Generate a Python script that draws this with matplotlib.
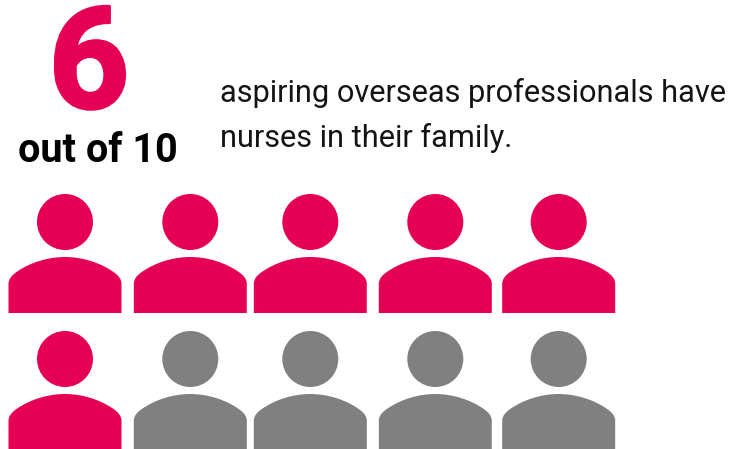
import matplotlib

matplotlib.use("Agg")
import matplotlib.patheffects as pe
import matplotlib.pyplot as plt
from matplotlib.patches import Circle, PathPatch
from matplotlib.path import Path

count_label = "6"
out_of_label = "out of 10"
caption_lines = ["aspiring overseas professionals have", "nurses in their family."]
n_highlighted = 6
n_people = 10

PINK = "#e50056"
GREY = "#808080"
INK = "#141414"

W, H = 735, 449
col_centres = [65, 190.3, 310.3, 435.3, 558.7]
row_tops = [194, 331]


def body_path(cx, top):
    # shoulders: flat bottom, rounded corners, shallow dome on top
    hw = 56.5
    y = lambda d: top + d
    verts = [
        (cx - hw, y(119)),
        (cx - hw, y(90)),
        (cx - hw, y(85)), (cx - hw + 3, y(81.5)), (cx - hw + 8, y(78)),
        (cx - 35, y(68.5)), (cx - 17, y(63)), (cx, y(63)),
        (cx + 17, y(63)), (cx + 35, y(68.5)), (cx + hw - 8, y(78)),
        (cx + hw - 3, y(81.5)), (cx + hw, y(85)), (cx + hw, y(90)),
        (cx + hw, y(119)),
        (cx - hw, y(119)),
    ]
    codes = [Path.MOVETO, Path.LINETO] + [Path.CURVE4] * 12 + [Path.LINETO, Path.CLOSEPOLY]
    return Path(verts, codes)


def draw_person(ax, cx, top, color):
    ax.add_patch(Circle((cx, top + 28), 28, fc=color, ec="none"))
    ax.add_patch(PathPatch(body_path(cx, top), fc=color, ec="none"))


fig = plt.figure(figsize=(W / 100, H / 100), dpi=100)
ax = fig.add_axes([0, 0, 1, 1])
ax.set_xlim(0, W)
ax.set_ylim(H, 0)
ax.axis("off")

for i in range(n_people):
    row, col = divmod(i, len(col_centres))
    color = PINK if i < n_highlighted else GREY
    draw_person(ax, col_centres[col], row_tops[row], color)

# the big numeral needs a heavier stroke than the bold face gives
big = ax.text(89, 108, count_label, color=PINK, fontsize=102, fontweight="bold",
              family="Roboto", ha="center", va="baseline")
big.set_path_effects([pe.withStroke(linewidth=2, foreground=PINK)])
ax.text(97.5, 162, out_of_label, color="black", fontsize=28.5, fontweight="bold",
        family="Roboto", ha="center", va="baseline")
ax.text(220, 102, caption_lines[0], color=INK, fontsize=22.15, family="Roboto", va="baseline")
ax.text(220, 147, caption_lines[1], color=INK, fontsize=22.15, family="Roboto", va="baseline")

fig.savefig("out.png", dpi=100)
